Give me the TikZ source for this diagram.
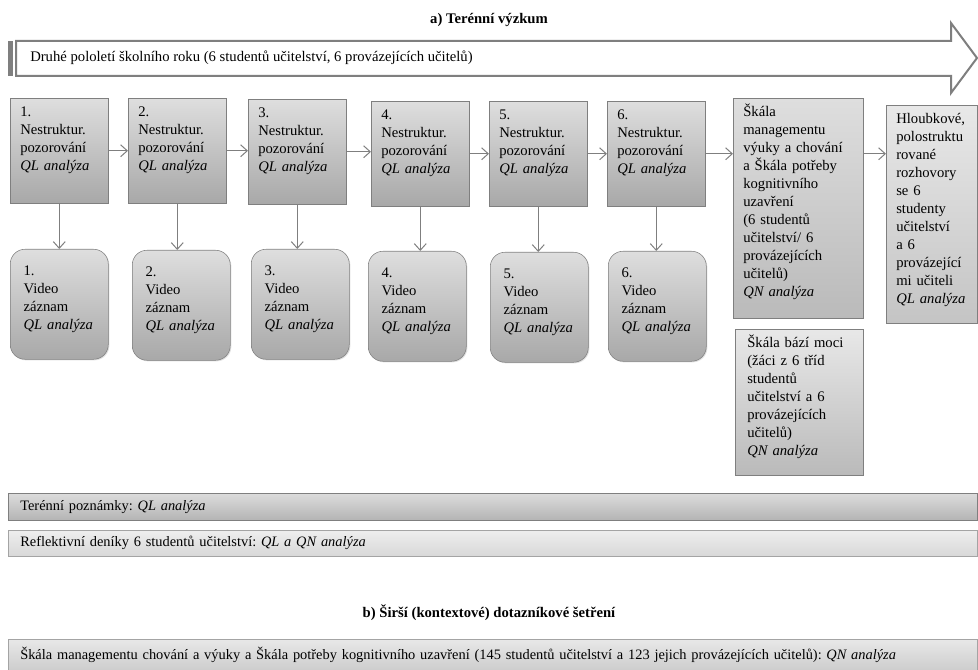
\documentclass[tikz,border=0pt]{standalone}
\usepackage{fontspec}
\setmainfont{Liberation Serif}
\usetikzlibrary{arrows.meta,positioning,shadows}

\definecolor{edgegray}{HTML}{7F7F7F}
\definecolor{lighttop}{HTML}{DEDEDE}
\definecolor{darkbottom}{HTML}{A8A8A8}
\definecolor{palebottom}{HTML}{BABABA}
\definecolor{bartop}{HTML}{DCDCDC}
\definecolor{barbottom}{HTML}{B4B4B4}
\definecolor{softtop}{HTML}{E8E8E8}
\definecolor{softbottom}{HTML}{C4C4C4}
\definecolor{paletop}{HTML}{EEEEEE}
\definecolor{palebar}{HTML}{D8D8D8}
\definecolor{paleedge}{HTML}{A4A4A4}
\definecolor{surveybottom}{HTML}{CDCDCD}

\begin{document}
\frenchspacing
\begin{tikzpicture}[
    x=0.75pt, y=-0.75pt,
    every node/.style={font=\fontsize{11pt}{13.5pt}\selectfont},
    box/.style={
        rectangle,
        draw=edgegray,
        anchor=north west,
        align=left,
        top color=lighttop,
        bottom color=darkbottom,
        drop shadow={opacity=0.25, shadow xshift=0.8pt, shadow yshift=-0.8pt},
        inner xsep=7.5pt,
        inner ysep=6pt,
        text height=8pt,
        text width=58.5pt,
        text depth=58.75pt
    },
    video/.style={
        box,
        rounded corners=11pt,
        inner xsep=10pt,
        inner ysep=11.5pt,
        text width=53.5pt,
        text depth=51.5pt
    },
    tall/.style={
        box,
        bottom color=palebottom
    },
    bar/.style={
        rectangle,
        draw=edgegray,
        anchor=north west,
        align=left,
        top color=bartop,
        bottom color=barbottom,
        drop shadow={opacity=0.25, shadow xshift=0.8pt, shadow yshift=-0.8pt},
        inner xsep=9pt,
        inner ysep=0pt,
        text width=708.75pt,
        font=\fontsize{10.8pt}{13pt}\selectfont
    },
    title/.style={
        font=\fontsize{11pt}{13pt}\selectfont\bfseries
    },
    arrow/.style={
        draw=edgegray,
        line width=0.75pt,
        -{Straight Barb[length=5pt,width=9pt]}
    }
]
\useasboundingbox (0,0) rectangle (978,670);

% a) field research
\node[title] (titleA) at (489,20) {a) Terénní výzkum};

% semester arrow
\fill[edgegray] (8,41) rectangle (13,76);
\draw[draw=edgegray, line width=1.5pt, fill=white]
    (16,41) -- (951,41) -- (951,23) -- (977,58) -- (951,93) -- (951,76) -- (16,76) -- cycle;
\node[anchor=west, inner sep=0pt] (semester) at (30,58)
    {Druhé pololetí školního roku (6 studentů učitelství, 6 provázejících učitelů)};

% observations
\node[box] (obs1) at (10,98) {1.\\Nestruktur.\\pozorování\\\textit{QL analýza}};
\node[box] (obs2) at (128,98) {2.\\Nestruktur.\\pozorování\\\textit{QL analýza}};
\node[box] (obs3) at (248,99) {3.\\Nestruktur.\\pozorování\\\textit{QL analýza}};
\node[box] (obs4) at (371,101) {4.\\Nestruktur.\\pozorování\\\textit{QL analýza}};
\node[box] (obs5) at (489,101) {5.\\Nestruktur.\\pozorování\\\textit{QL analýza}};
\node[box] (obs6) at (607,101) {6.\\Nestruktur.\\pozorování\\\textit{QL analýza}};

% video recordings
\node[video] (vid1) at (10,249) {1.\\Video\\záznam\\\textit{QL analýza}};
\node[video] (vid2) at (132,250) {2.\\Video\\záznam\\\textit{QL analýza}};
\node[video] (vid3) at (251,249) {3.\\Video\\záznam\\\textit{QL analýza}};
\node[video] (vid4) at (368,251) {4.\\Video\\záznam\\\textit{QL analýza}};
\node[video] (vid5) at (490,252) {5.\\Video\\záznam\\\textit{QL analýza}};
\node[video] (vid6) at (608,251) {6.\\Video\\záznam\\\textit{QL analýza}};

% scales and interviews
\node[tall, text width=82.5pt, text depth=145pt] (scale) at (733,98)
    {Škála\\managementu\\výuky a chování\\a Škála potřeby\\kognitivního\\uzavření\\(6 studentů\\učitelství/ 6\\provázejících\\učitelů)\\\textit{QN analýza}};
\node[tall, text width=53.25pt, text depth=143.5pt, top color=softtop, bottom color=softbottom] (interview) at (886,105)
    {Hloubkové,\\polostruktu\\rované\\rozhovory\\se 6\\studenty\\učitelství\\a 6\\provázející\\mi učiteli\\\textit{QL analýza}};
\node[tall, inner xsep=9pt, text width=78pt, text depth=89.5pt, top color=softtop, bottom color=palebottom] (power) at (735,329)
    {Škála bází moci\\(žáci z 6 tříd\\studentů\\učitelství a 6\\provázejících\\učitelů)\\\textit{QN analýza}};

% arrows
\foreach \a/\b in {obs1/obs2, obs2/obs3, obs3/obs4, obs4/obs5, obs5/obs6, obs6/scale}
    \draw[arrow] (\a.east) -- (\a.east -| \b.west);
\draw[arrow] (scale.east |- obs6.east) -- (interview.west |- obs6.east);
\foreach \i in {1,...,6}
    \draw[arrow] (obs\i.south) -- (obs\i.south |- vid\i.north);

% notes and diaries
\node[bar, minimum height=20.25pt] (notes) at (8,493) {Terénní poznámky: \textit{QL analýza}};
\node[bar, minimum height=19.5pt, draw=paleedge, top color=paletop, bottom color=palebar] (diaries) at (8,530)
    {Reflektivní deníky 6 studentů učitelství: \textit{QL a QN analýza}};

% b) questionnaire survey
\node[title] (titleB) at (489,613) {b) Širší (kontextové) dotazníkové šetření};
\node[bar, minimum height=23.25pt, draw=paleedge, top color=softtop, bottom color=surveybottom] (survey) at (8,639)
    {Škála managementu chování a výuky a Škála potřeby kognitivního uzavření (145 studentů učitelství a 123 jejich provázejících učitelů): \textit{QN analýza}};

\end{tikzpicture}
\end{document}
